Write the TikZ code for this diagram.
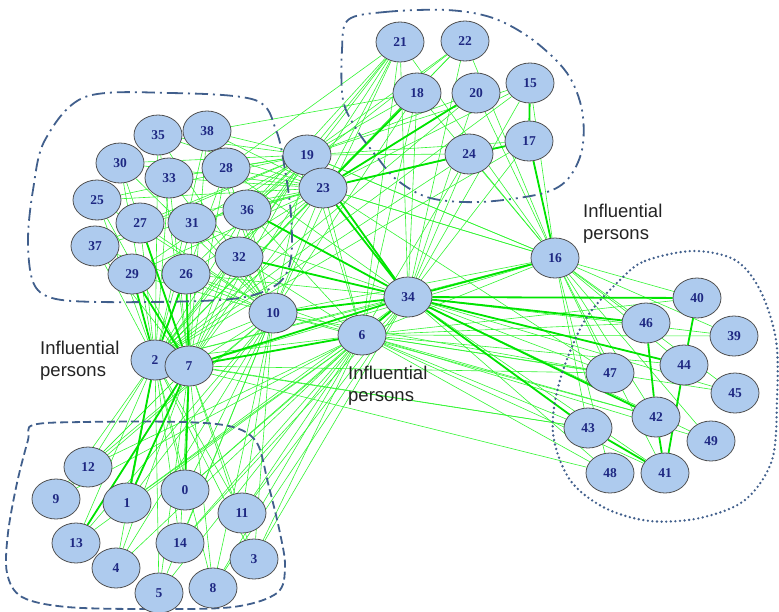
\documentclass[tikz,border=0pt]{standalone}
\usepackage{fontspec}
\setmainfont{Liberation Serif}
\setsansfont{Liberation Sans}
\usepackage{tikz}
\usetikzlibrary{shapes.geometric,backgrounds}
\definecolor{nodefill}{RGB}{174,203,238}
\definecolor{nodeline}{RGB}{80,80,80}
\definecolor{numblue}{RGB}{30,40,130}
\definecolor{linkgreen}{RGB}{50,245,50}
\definecolor{heavygreen}{RGB}{0,228,0}
\definecolor{hullblue}{RGB}{65,95,140}
\definecolor{notegray}{RGB}{35,35,35}

\def\clA{25,26,27,28,29,30,31,32,33,35,36,37,38}
\def\clB{15,17,18,20,21,22,24}
\def\clC{0,1,3,4,5,8,9,11,12,13,14}
\def\clD{39,40,41,42,43,44,45,46,47,48,49}
\def\hubs{2,7,10,19,23,34,6,16}

\begin{document}
\begin{tikzpicture}[x=1pt,y=-1pt]
\tikzstyle{vertex}=[ellipse,draw=nodeline,fill=nodefill,line width=0.8pt,
inner sep=0pt,minimum width=48pt,minimum height=40pt,
text=numblue,font=\fontsize{13.5}{14}\selectfont\bfseries]
\tikzstyle{link}=[draw=linkgreen,line width=0.6pt]
\tikzstyle{strong}=[draw=heavygreen,line width=1.8pt]
\tikzstyle{note}=[align=left,anchor=west,inner sep=0pt,text=notegray,
font=\sffamily\fontsize{18.5}{22}\selectfont]
\tikzstyle{hull}=[draw=hullblue,line width=1.8pt]
\useasboundingbox (0,0) rectangle (779,611);

% cluster outlines
\draw[hull,dash pattern=on 13pt off 5pt on 2pt off 5pt] plot[smooth cycle,tension=0.55] coordinates
{(85,97) (170,93) (255,100) (276,130) (285,170) (291,215) (291,258) (280,282) (250,296)
(200,301) (100,302) (52,298) (33,282) (28,240) (33,190) (45,140)};
\draw[hull,dash pattern=on 13pt off 5pt on 2pt off 5pt on 2pt off 5pt] plot[smooth cycle,tension=0.55] coordinates
{(348,20) (385,12) (447,10) (493,18) (533,40) (567,73) (582,110) (582,150) (567,180)
(540,194) (480,202) (430,198) (397,180) (377,157) (357,130) (343,100) (342,50)};
\draw[hull,dash pattern=on 8pt off 4pt] plot[smooth cycle,tension=0.55] coordinates
{(33,425) (83,422) (183,422) (233,427) (257,443) (268,483) (280,533) (285,567) (277,593)
(233,607) (150,609) (67,607) (22,597) (7,573) (8,533) (17,483) (28,440)};
\draw[hull,line width=2.6pt,line cap=round,dash pattern=on 0pt off 4.6pt] plot[smooth cycle,tension=0.55] coordinates
{(620,280) (645,261) (693,251) (735,260) (760,290) (776,340) (777,400) (772,460) (745,500)
(700,518) (650,521) (605,508) (570,480) (553,433) (560,380) (585,320)};

% group around 2 and 7
\node[vertex] at (155,360) (2) {2};
\node[vertex] at (189,366) (7) {7};
\node[vertex] at (273,313) (10) {10};
\node[vertex] at (362,335) (6) {6};
\node[vertex] at (408,297) (34) {34};
\node[vertex] at (555,258) (16) {16};
\node[vertex] at (307,155) (19) {19};
\node[vertex] at (323,188) (23) {23};
% top left
\node[vertex] at (158,135) (35) {35};
\node[vertex] at (207,131) (38) {38};
\node[vertex] at (120,163) (30) {30};
\node[vertex] at (169,178) (33) {33};
\node[vertex] at (226,168) (28) {28};
\node[vertex] at (97,200) (25) {25};
\node[vertex] at (140,223) (27) {27};
\node[vertex] at (192,223) (31) {31};
\node[vertex] at (247,210) (36) {36};
\node[vertex] at (95,246) (37) {37};
\node[vertex] at (239,257) (32) {32};
\node[vertex] at (132,274) (29) {29};
\node[vertex] at (186,274) (26) {26};
% top
\node[vertex] at (400,42) (21) {21};
\node[vertex] at (465,41) (22) {22};
\node[vertex] at (417,93) (18) {18};
\node[vertex] at (476,93) (20) {20};
\node[vertex] at (530,83) (15) {15};
\node[vertex] at (529,141) (17) {17};
\node[vertex] at (469,154) (24) {24};
% bottom left
\node[vertex] at (88,467) (12) {12};
\node[vertex] at (56,499) (9) {9};
\node[vertex] at (127,503) (1) {1};
\node[vertex] at (185,490) (0) {0};
\node[vertex] at (242,513) (11) {11};
\node[vertex] at (76,543) (13) {13};
\node[vertex] at (180,543) (14) {14};
\node[vertex] at (116,568) (4) {4};
\node[vertex] at (254,559) (3) {3};
\node[vertex] at (159,593) (5) {5};
\node[vertex] at (213,588) (8) {8};
% right
\node[vertex] at (697,298) (40) {40};
\node[vertex] at (646,323) (46) {46};
\node[vertex] at (734,336) (39) {39};
\node[vertex] at (684,365) (44) {44};
\node[vertex] at (610,373) (47) {47};
\node[vertex] at (735,393) (45) {45};
\node[vertex] at (656,417) (42) {42};
\node[vertex] at (588,428) (43) {43};
\node[vertex] at (711,441) (49) {49};
\node[vertex] at (610,473) (48) {48};
\node[vertex] at (665,473) (41) {41};

\node[note] at (40,361) (infl1) {Influential\\persons};
\node[note] at (348,386) (infl2) {Influential\\persons};
\node[note] at (583,224) (infl3) {Influential\\persons};

\begin{pgfonlayer}{background}
% inside each group
\foreach \grp in {\clA,\clB,\clC,\clD}{
  \foreach \a [count=\i] in \grp {
    \foreach \b [count=\j] in \grp {
      \ifnum\j>\i \path[link] (\a) edge (\b); \fi
    }
  }
}
% between the hubs
\foreach \a [count=\i] in \hubs {
  \foreach \b [count=\j] in \hubs {
    \ifnum\j>\i \path[link] (\a) edge (\b); \fi
  }
}
% hubs to groups
\foreach \h in {2,7,10,19,23} \foreach \x in \clA \path[link] (\h) edge (\x);
\foreach \h in {2,7,10,6} \foreach \x in \clC \path[link] (\h) edge (\x);
\foreach \h in {34,6,16} \foreach \x in \clD \path[link] (\h) edge (\x);
\foreach \h in {19,23,34,16,2} \foreach \x in \clB \path[link] (\h) edge (\x);
\foreach \a/\b in {34/26,34/31,34/32,34/36,34/28,34/0,34/11,34/14,34/3,34/8,34/1,6/26,6/32,
6/36,6/21,6/18,6/24,7/43,7/47,2/43,10/47,7/21,10/21,10/18,21/28,21/36,18/38,22/36,
23/16,23/47,19/16,10/42,2/48}
  \path[link] (\a) edge (\b);
% heavy ties
\foreach \a/\b in {2/29,2/26,7/26,7/29,7/27,2/1,7/1,7/0,7/13,7/34,7/6,6/34,10/34,
23/34,19/34,32/34,36/34,23/24,23/20,23/18,24/17,17/15,16/17,16/34,34/40,34/46,
34/44,34/42,34/43,43/41,42/41,46/42,44/41,40/44}
  \path[strong] (\a) edge (\b);
\end{pgfonlayer}
\end{tikzpicture}
\end{document}
